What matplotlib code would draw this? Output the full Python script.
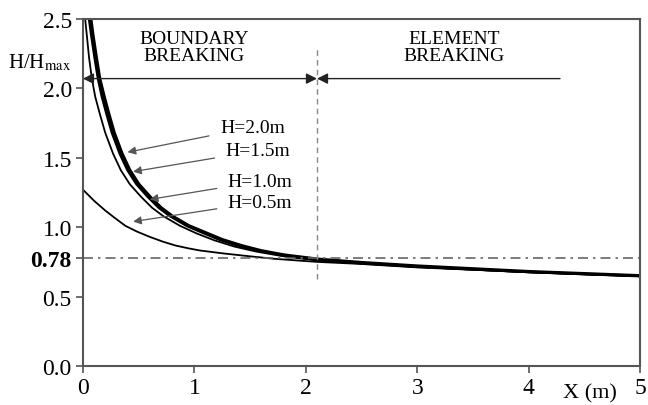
import numpy as np
import matplotlib
matplotlib.use('Agg')
import matplotlib.pyplot as plt

plt.rcParams['font.family'] = ['Liberation Serif', 'DejaVu Serif']
plt.rcParams['mathtext.fontset'] = 'stix'

# curves, x in m, y = H/Hmax
x_h20 = [0.07, 0.09, 0.12, 0.15, 0.19, 0.23, 0.28, 0.35, 0.42, 0.50, 0.60, 0.70, 0.80, 0.95, 1.10,
         1.25, 1.43, 1.60, 1.80, 2.10, 2.50, 3.00, 3.50, 4.00, 4.50, 5.00]
y_h20 = [2.50, 2.38, 2.22, 2.07, 1.94, 1.82, 1.68, 1.53, 1.41, 1.31, 1.22, 1.14, 1.08, 1.01, 0.96,
         0.91, 0.865, 0.83, 0.80, 0.77, 0.745, 0.72, 0.70, 0.68, 0.665, 0.65]
x_h15 = [0.055, 0.075, 0.105, 0.135, 0.17, 0.21, 0.26, 0.33, 0.40, 0.48, 0.58, 0.68, 0.78, 0.93, 1.08,
         1.23, 1.41, 1.59, 1.80, 2.10, 2.50, 3.00, 3.50, 4.00, 4.50, 5.00]
y_h15 = [2.50, 2.38, 2.22, 2.07, 1.94, 1.82, 1.68, 1.53, 1.41, 1.31, 1.22, 1.14, 1.08, 1.01, 0.958,
         0.908, 0.862, 0.827, 0.797, 0.766, 0.742, 0.717, 0.697, 0.678, 0.663, 0.649]
x_h10 = [0.02, 0.035, 0.055, 0.08, 0.11, 0.15, 0.20, 0.27, 0.34, 0.42, 0.52, 0.62, 0.72, 0.87, 1.02,
         1.18, 1.36, 1.55, 1.80, 2.10, 2.50, 3.00, 3.50, 4.00, 4.50, 5.00]
y_h10 = [2.50, 2.38, 2.22, 2.07, 1.94, 1.82, 1.68, 1.53, 1.41, 1.31, 1.22, 1.14, 1.08, 1.01, 0.955,
         0.905, 0.86, 0.825, 0.79, 0.76, 0.737, 0.713, 0.694, 0.676, 0.662, 0.648]
x_h05 = [0.00, 0.05, 0.10, 0.15, 0.20, 0.28, 0.38, 0.48, 0.60, 0.72, 0.83, 0.95, 1.05, 1.27, 1.50,
         1.72, 2.10, 2.50, 3.00, 3.50, 4.00, 4.50, 5.00]
y_h05 = [1.27, 1.23, 1.19, 1.155, 1.12, 1.07, 1.01, 0.97, 0.93, 0.895, 0.868, 0.847, 0.832, 0.81, 0.79,
         0.772, 0.75, 0.735, 0.71, 0.693, 0.675, 0.66, 0.647]

labels = ['H=2.0m', 'H=1.5m', 'H=1.0m', 'H=0.5m']
# label position and arrow tip (data coords)
lab_xy = [(1.23, 1.72), (1.28, 1.55), (1.30, 1.33), (1.30, 1.18)]
tip_xy = [(0.40, 1.54), (0.45, 1.40), (0.60, 1.20), (0.45, 1.04)]

x_split = 2.1
h_break = 0.78

fig = plt.figure(figsize=(6.48, 4.06), dpi=100)
ax = fig.add_axes([0.128, 0.096, 0.86, 0.855])

ax.plot(x_h20, y_h20, color='black', lw=2.4, solid_joinstyle='round')
ax.plot(x_h15, y_h15, color='black', lw=1.8, solid_joinstyle='round')
ax.plot(x_h10, y_h10, color='black', lw=1.3, solid_joinstyle='round')
ax.plot(x_h05, y_h05, color='black', lw=1.3, solid_joinstyle='round')

ax.axhline(h_break, color='#666666', lw=1.2, ls=(0, (6, 3, 1.5, 3)))
ax.plot([x_split, x_split], [0.63, 2.30], color='#888888', lw=1.0, ls=(0, (4, 3)))

for lab, (lx, ly), (tx, ty) in zip(labels, lab_xy, tip_xy):
    ax.annotate(lab, xy=(tx, ty), xytext=(lx, ly), fontsize=14, va='center', ha='left',
                arrowprops=dict(arrowstyle='-|>', color='#555555', lw=0.9,
                                mutation_scale=12, shrinkA=6, shrinkB=0))

# region arrows
ax.annotate('', xy=(0.0, 2.07), xytext=(x_split, 2.07),
            arrowprops=dict(arrowstyle='<|-|>', color='#222222', lw=1.0, mutation_scale=16,
                            shrinkA=0, shrinkB=0))
ax.annotate('', xy=(x_split, 2.07), xytext=(4.28, 2.07),
            arrowprops=dict(arrowstyle='-|>', color='#222222', lw=1.0, mutation_scale=16,
                            shrinkA=0, shrinkB=0))

ax.text(1.0, 2.30, 'BOUNDARY\nBREAKING', ha='center', va='center', fontsize=14, linespacing=1.0)
ax.text(3.33, 2.30, 'ELEMENT\nBREAKING', ha='center', va='center', fontsize=14, linespacing=1.0)

ax.set_xlim(0, 5)
ax.set_ylim(0, 2.5)
ax.set_xticks([0, 1, 2, 3, 4, 5])
yt = [0.0, 0.5, h_break, 1.0, 1.5, 2.0, 2.5]
ax.set_yticks(yt)
ax.set_yticklabels(['0.0', '0.5', '0.78', '1.0', '1.5', '2.0', '2.5'])
ax.get_yticklabels()[2].set_fontweight('bold')
ax.tick_params(labelsize=17, direction='out', length=5, width=1.2, color='#555555', pad=3)

for s in ax.spines.values():
    s.set_color('#555555')
    s.set_linewidth(1.5)

ax.text(4.55, -0.19, 'X (m)', ha='center', va='center', fontsize=16)
fig.text(0.012, 0.845, 'H/H$_{\\mathrm{max}}$', fontsize=15, ha='left', va='center')

fig.savefig('out.png', dpi=100)
